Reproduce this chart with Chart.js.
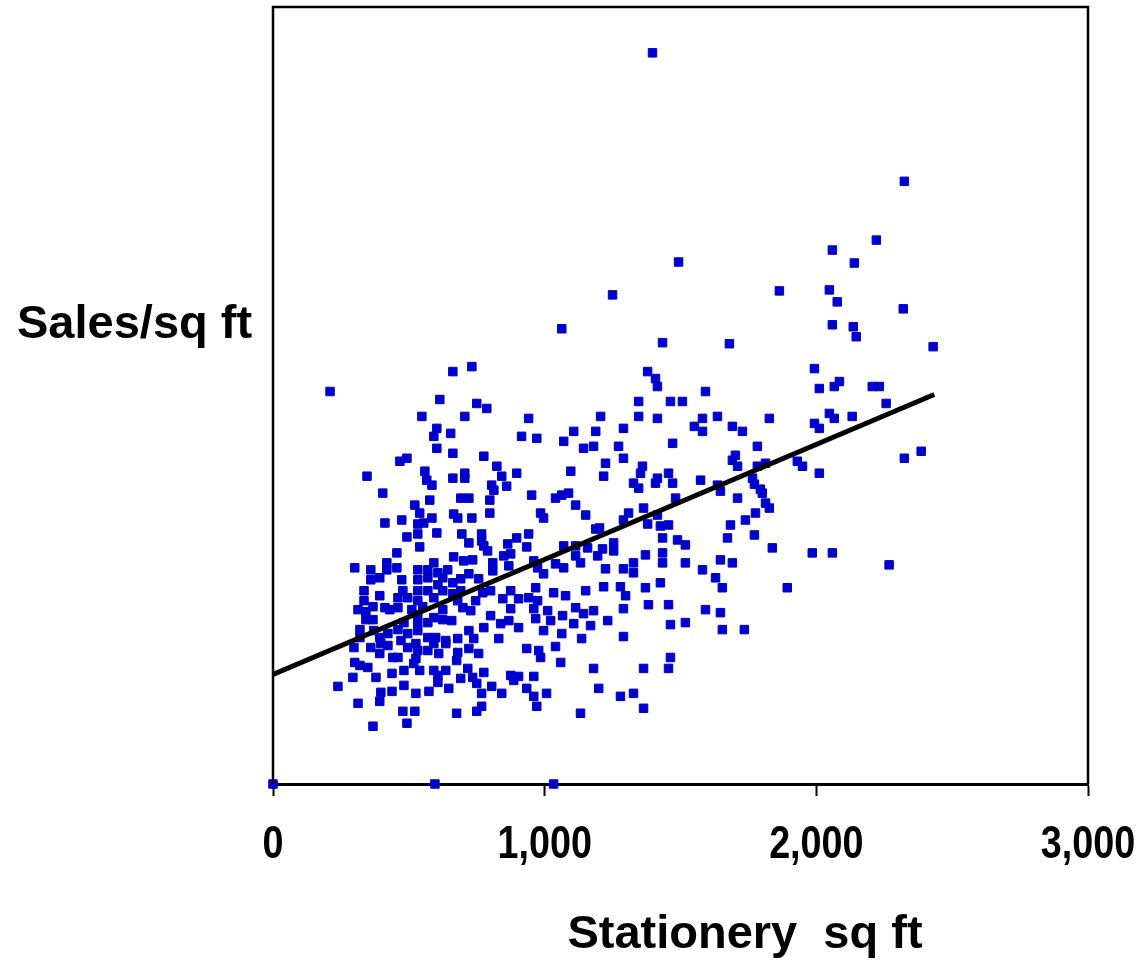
<!DOCTYPE html>
<html>
<head>
<meta charset="utf-8">
<script src="https://cdn.jsdelivr.net/npm/chart.js@4.4.1/dist/chart.umd.min.js"></script>
<style>
  html, body { margin: 0; padding: 0; background: #fff; }
</style>
</head>
<body>
<canvas id="myChart" width="1144" height="965"></canvas>
<script>
// stationery floor space (sq ft) of each store
const storeSqFt = [
  1397, 2324, 2221, 2059, 2140, 1493, 1864, 1250, 2048, 2077, 2320, 2059, 2136, 2147, 1063, 1680, 1434, 2430,
  210, 614, 548, 603, 592, 654, 603, 467, 493, 346, 559, 566, 585, 404, 577, 522, 540, 412, 474, 585, 533, 555,
  662, 732, 750, 787, 706, 941, 1379, 1346, 1346, 1206, 1290, 1188, 1107, 1070, 915, 971, 1143, 1180, 1272, 1290,
  776, 662, 824, 842, 860, 897, 1096, 1224, 1217, 1360, 1353, 1327, 1346, 706, 706, 662, 805, 813, 798, 952,
  1040, 1063, 1088, 1114, 1151, 1364, 691, 721, 665, 680, 732, 798, 985, 996, 1309, 1290, 1379, 1188, 1202,
  1408, 1415, 1993, 2011, 2066, 2085, 1592, 1463, 1507, 1415, 1636, 1581, 1551, 1581, 1691, 1728, 1827, 2048,
  2066, 1993, 2011, 1471, 1783, 1702, 1691, 1710, 1783, 1813, 1930, 1949, 2011, 1456, 1415, 1408, 1471, 1574,
  1636, 1647, 1765, 1772, 1794, 1801, 1482, 1710, 1813, 1827, 1415, 1776, 1739, 1684, 1426, 1456,
  2206, 2232, 2257, 2132, 2386, 2324, 2268,
  493, 533, 540, 603, 456, 301, 360, 419, 419, 456, 360, 393, 474, 533, 533, 570, 592, 607, 643, 570, 625, 607,
  335, 335, 393, 412, 478, 460, 496, 533, 533, 570, 592, 625, 313, 342, 368, 430, 460, 511, 551, 533, 592, 625,
  342, 368, 371, 482, 533, 570, 625, 320, 320, 393, 423, 397, 460, 471, 496, 533, 526, 570, 599, 636, 298, 301,
  360, 393, 423, 441, 460, 496, 526, 533, 570, 592, 610, 636, 320, 349, 379, 438, 482, 518, 540, 592, 607, 636, 294,
  695, 768, 768, 721, 897, 941, 864, 849, 875, 934, 776, 790, 665, 702, 735, 721, 691, 662, 809, 809, 757, 868,
  960, 974, 996, 1070, 1114, 1114, 1158, 1195, 1213, 1254, 1254, 1040, 1070, 1132, 1224, 1290, 1327, 1327,
  662, 691, 680, 699, 746, 728, 772, 801, 875, 904, 875, 846, 941, 967, 974, 960, 1011, 1033, 1077, 1114, 1151,
  1217, 1279, 1298, 1290, 658, 801, 838, 868, 904, 967, 1022, 1066, 1107, 1143, 1180, 1169, 1232, 776, 721, 739,
  680, 831, 996, 1063, 1136, 1290, 721, 757, 676, 717, 680, 934, 978, 985, 1040, 1059, 776, 735, 691, 875, 904,
  886, 960, 1180,
  1434, 1489, 1518, 1673, 1772, 1838, 1985, 2059, 1371, 1434, 1434, 1518, 1647, 1691, 1581, 1629, 1371, 1426,
  1654, 1893, 1382, 1456, 1592, 1647, 1463, 1518, 1654, 1735, 1463, 1364, 1456, 1364,
  239, 313, 368, 397, 438, 393, 478, 522, 493, 676, 750, 768, 768, 842, 805, 934, 960, 971, 1007, 1132, 1199,
  1279, 1327, 526, 574, 647, 750, 482, 607, 0, 596, 1033
];

// sales per sq ft (unlabelled axis, same units as the picture height)
const salesPerSqFt = [
  734, 605, 546, 536, 523, 524, 495, 491, 496, 484, 477, 461, 459, 449, 457, 442, 443, 439,
  394, 386, 369, 357, 349, 352, 337, 324, 327, 309, 314, 305, 300, 292, 285, 280, 272, 262, 265, 267, 261, 262,
  414, 419, 382, 377, 369, 367, 414, 384, 369, 369, 357, 354, 354, 344, 349, 347, 337, 339, 339, 327,
  329, 332, 319, 309, 299, 312, 314, 322, 309, 319, 312, 302, 297, 312, 307, 307, 300, 295, 285, 290,
  287, 290, 292, 280, 270, 277, 287, 287, 271, 267, 267, 272, 272, 267, 272, 265, 261, 256, 257,
  407, 399, 417, 397, 399, 404, 394, 384, 384, 367, 369, 367, 359, 354, 359, 354, 367, 372,
  367, 362, 357, 342, 339, 330, 325, 319, 319, 322, 324, 319, 312, 312, 307, 302, 302, 305,
  300, 294, 307, 301, 296, 292, 287, 287, 282, 277, 270, 272, 265, 260, 259, 260,
  399, 399, 382, 369, 334, 327, 220,
  248, 251, 238, 252, 232, 217, 215, 222, 215, 217, 205, 207, 205, 215, 205, 215, 222, 212, 215, 207, 207, 200,
  194, 184, 189, 177, 194, 187, 187, 194, 184, 194, 187, 194, 175, 173, 178, 175, 177, 175, 178, 170, 167, 175,
  165, 165, 154, 162, 162, 162, 165, 155, 147, 147, 151, 141, 155, 144, 151, 154, 141, 147, 147, 144, 137, 122,
  137, 131, 139, 127, 127, 137, 126, 134, 134, 141, 131, 141, 119, 117, 107, 111, 114, 121, 114, 114, 109, 114, 107,
  251, 251, 244, 242, 247, 251, 241, 229, 231, 238, 239, 234, 228, 224, 225, 211, 206, 202, 222, 214, 206, 219,
  224, 217, 211, 239, 239, 229, 237, 229, 236, 242, 234, 221, 217, 222, 216, 216, 222, 212,
  191, 194, 184, 177, 184, 174, 192, 194, 194, 186, 176, 186, 187, 197, 184, 176, 174, 192, 189, 177, 194,
  198, 198, 189, 176, 164, 169, 161, 164, 157, 166, 164, 169, 161, 171, 174, 159, 164, 157, 154, 146,
  146, 146, 154, 151, 146, 148, 136, 131, 124, 116, 132, 136, 134, 127, 138, 122, 112, 107, 106, 109, 108,
  104, 108, 116,
  247, 245, 240, 247, 250, 237, 232, 232, 230, 232, 222, 222, 225, 222, 215, 207, 197, 202,
  197, 197, 180, 180, 175, 172, 160, 162, 155, 155, 127, 116, 116, 76,
  98, 81, 58, 92, 93, 83, 73, 73, 61, 71, 73, 78, 91, 91, 98, 96, 88, 78, 91, 71, 96,
  88, 91, 91, 93, 96, 101, 99, 102, 0, 0, 0
];

// fitted trend line end points
const trendSqFt = [0, 2434];
const trendSales = [110, 391];

const xTicks = [0, 1000, 2000, 3000];
const xTitle = 'Stationery  sq ft';
const yTitle = 'Sales/sq ft';

const points = storeSqFt.map((x, i) => ({ x: x, y: salesPerSqFt[i] }));
const trend = trendSqFt.map((x, i) => ({ x: x, y: trendSales[i] }));

// box round the plot area, the narrow tick labels and the two titles
const frameAndTitles = {
  id: 'frameAndTitles',
  afterDraw(chart) {
    const ctx = chart.ctx;
    const a = chart.chartArea;
    const xs = chart.scales.x;
    ctx.save();
    ctx.strokeStyle = '#000';
    ctx.lineWidth = 2.5;
    ctx.beginPath();
    ctx.moveTo(a.left, a.bottom);
    ctx.lineTo(a.left, a.top);
    ctx.lineTo(a.right, a.top);
    ctx.lineTo(a.right, a.bottom);
    ctx.stroke();

    ctx.fillStyle = '#000';
    ctx.textBaseline = 'middle';

    // tick labels are set in a condensed bold face
    ctx.save();
    ctx.font = 'bold 46px "Liberation Sans", Arial, sans-serif';
    ctx.textAlign = 'center';
    ctx.scale(0.82, 1);
    xTicks.forEach(v => {
      ctx.fillText(v.toLocaleString('en-US'), xs.getPixelForValue(v) / 0.82, 845);
    });
    ctx.restore();

    ctx.font = 'bold 47px "Liberation Sans", Arial, sans-serif';
    ctx.textAlign = 'left';
    ctx.fillText(yTitle, 17, 325);
    ctx.textAlign = 'center';
    ctx.fillText(xTitle, 745, 935);
    ctx.restore();
  }
};

var ctx = document.getElementById('myChart');

var myChart = new Chart(ctx, {
  type: 'scatter',
  data: {
    datasets: [
      {
        type: 'line',
        label: 'trend',
        data: trend,
        borderColor: '#000',
        borderWidth: 5,
        pointRadius: 0,
        fill: false,
        order: 0
      },
      {
        label: 'stores',
        data: points,
        pointStyle: 'rect',
        pointRadius: 6,
        pointBorderWidth: 1,
        backgroundColor: 'rgb(0, 0, 204)',
        borderColor: 'rgb(0, 0, 204)',
        clip: false,
        order: 1
      }
    ]
  },
  options: {
    responsive: false,
    animation: false,
    devicePixelRatio: 1,
    layout: { padding: { left: 273, right: 56, top: 6, bottom: 0 } },
    plugins: {
      legend: { display: false },
      tooltip: { enabled: false }
    },
    scales: {
      x: {
        type: 'linear',
        min: 0,
        max: 3000,
        afterBuildTicks: (scale) => { scale.ticks = xTicks.map(v => ({ value: v })); },
        afterFit: (scale) => {
          scale.height = 181;
          scale.paddingLeft = 0;
          scale.paddingRight = 0;
        },
        ticks: { display: false },
        grid: {
          drawOnChartArea: false,
          drawTicks: true,
          tickLength: 12,
          tickWidth: 2,
          tickColor: '#000'
        },
        border: { display: true, color: '#000', width: 3 }
      },
      y: {
        display: false,
        min: 0,
        max: 780
      }
    }
  },
  plugins: [frameAndTitles]
});
</script>
</body>
</html>
